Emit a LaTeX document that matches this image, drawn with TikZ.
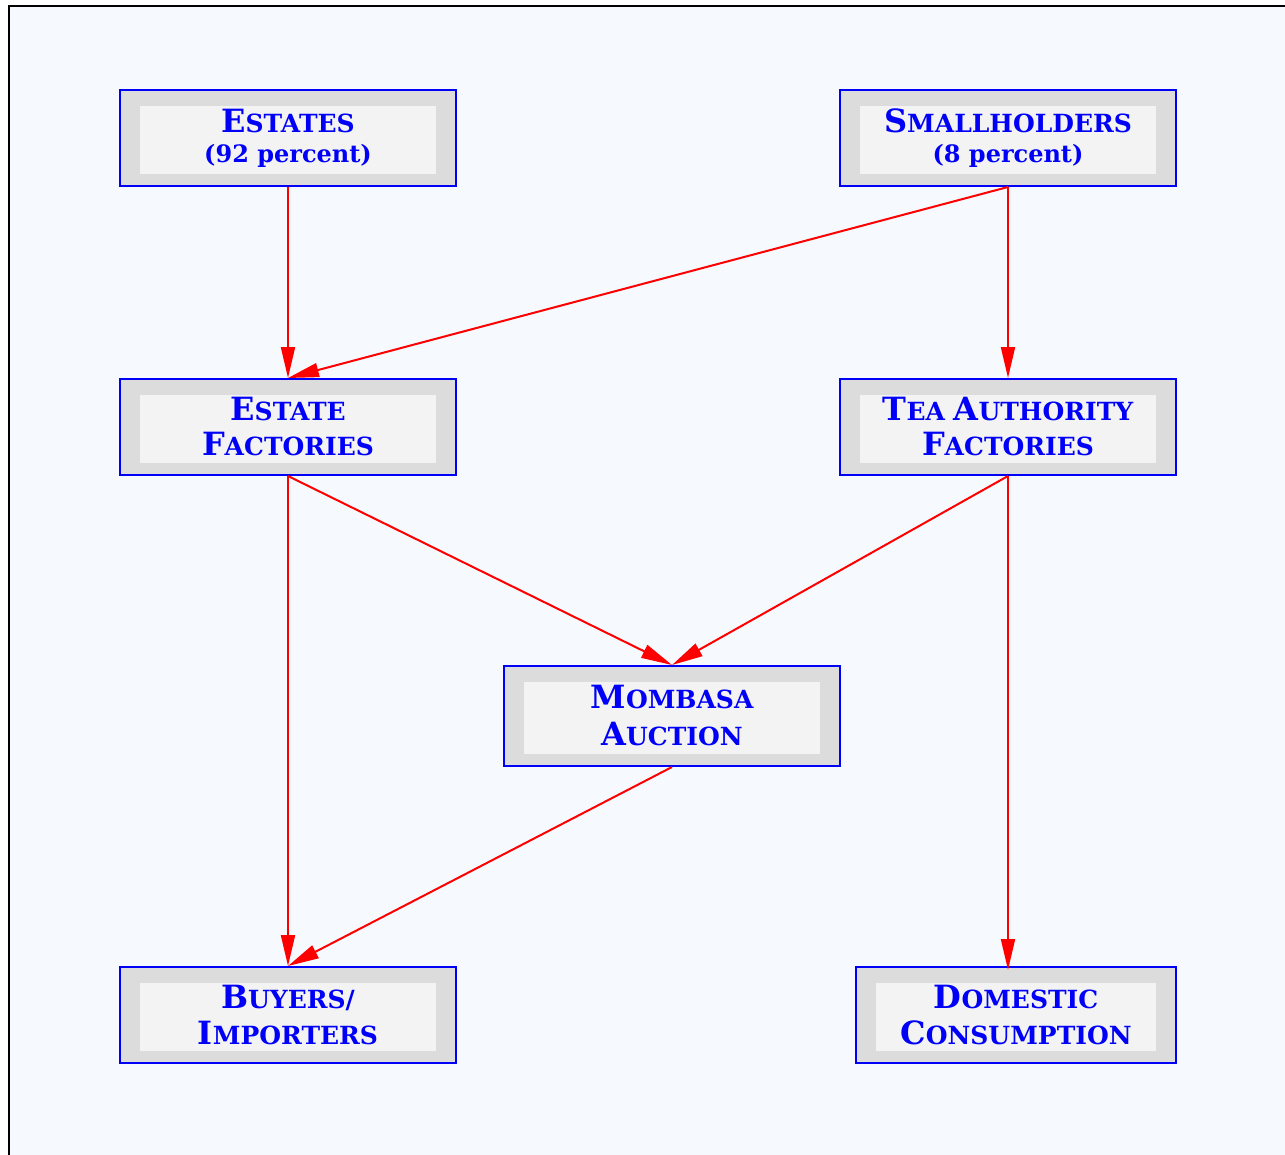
\documentclass[tikz,border=0pt]{standalone}
\usepackage{fontspec}
\setmainfont{DejaVu Serif}
\usetikzlibrary{arrows.meta}
\definecolor{pagebg}{HTML}{F6F9FE}
\definecolor{boxblue}{HTML}{0000F8}
\definecolor{outergray}{HTML}{DCDCDC}
\definecolor{innergray}{HTML}{F3F3F3}
\newcommand\scword[2]{{\fontsize{32}{35}\selectfont #1}{\fontsize{25}{35}\selectfont #2}}
\tikzset{teabox/.style={draw=boxblue, line width=2pt, fill=outergray, text=boxblue, align=center, inner sep=0pt,
    minimum width=336pt, minimum height=96pt, font=\bfseries\fontsize{25}{35}\selectfont,
    path picture={\fill[innergray] ([xshift=20pt,yshift=-16pt]path picture bounding box.north west)
      rectangle ([xshift=-20pt,yshift=12pt]path picture bounding box.south east);}},
  flow/.style={red, line width=2pt, -{Triangle[length=31pt,width=14pt]}}}

\begin{document}
\begin{tikzpicture}[x=1pt,y=-1pt]
  \clip (0,0) rectangle (1285,1154);
  \fill[white] (0,0) rectangle (1285,1154);
  \filldraw[fill=pagebg, draw=black, line width=2pt] (9,6) rectangle (1300,1170);
  \node[teabox] (estates) at (288,138) {\scword{E}{STATES}\\[-5pt]{\fontsize{24}{28}\selectfont (92 percent)}};
  \node[teabox] (small) at (1008,138) {\scword{S}{MALLHOLDERS}\\[-5pt]{\fontsize{24}{28}\selectfont (8 percent)}};
  \node[teabox] (estfact) at (288,427) {\scword{E}{STATE}\\\scword{F}{ACTORIES}};
  \node[teabox] (teafact) at (1008,427) {\scword{T}{EA} \scword{A}{UTHORITY}\\\scword{F}{ACTORIES}};
  \node[teabox, minimum height=100pt] (auction) at (672,716) {\scword{M}{OMBASA}\\[2pt]\scword{A}{UCTION}};
  \node[teabox] (buyers) at (288,1015) {\scword{B}{UYERS/}\\[1pt]\scword{I}{MPORTERS}};
  \node[teabox, minimum width=320pt] (domestic) at (1016,1015) {\scword{D}{OMESTIC}\\[1pt]\scword{C}{ONSUMPTION}};
  \draw[flow] (estates.south) -- (estfact.north);
  \draw[flow] (small.south) -- (estfact.north);
  \draw[flow] (small.south) -- (teafact.north);
  \draw[flow] (estfact.south) -- (auction.north);
  \draw[flow] (teafact.south) -- (auction.north);
  \draw[flow] (estfact.south) -- (buyers.north);
  \draw[flow] (auction.south) -- (buyers.north);
  \draw[flow] (teafact.south) -- ([yshift=-4pt]teafact.south |- domestic.north);
\end{tikzpicture}
\end{document}
